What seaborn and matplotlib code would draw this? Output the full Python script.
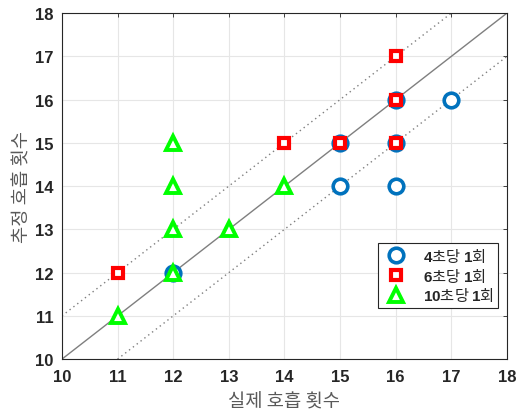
import numpy as np
import pandas as pd
import matplotlib
matplotlib.use("Agg")
import matplotlib.pyplot as plt
import seaborn as sns

# Actual vs. estimated breath counts for three breathing rates
rate_4s_actual = [12, 15, 16, 15, 16, 16, 17]
rate_4s_est = [12, 14, 14, 15, 15, 16, 16]

rate_6s_actual = [11, 14, 15, 16, 16, 16]
rate_6s_est = [12, 15, 15, 15, 16, 17]

rate_10s_actual = [11, 12, 12, 12, 12, 13, 14]
rate_10s_est = [11, 12, 13, 14, 15, 13, 14]

series_labels = [r"$\mathbf{4}$초당 $\mathbf{1}$회",
                 r"$\mathbf{6}$초당 $\mathbf{1}$회",
                 r"$\mathbf{10}$초당 $\mathbf{1}$회"]

axis_range = [10, 18]
ticks = list(range(10, 19))

sns.set_style("white")
plt.rcParams["font.family"] = ["Liberation Sans", "Noto Sans CJK KR", "DejaVu Sans"]
plt.rcParams["mathtext.fontset"] = "custom"
plt.rcParams["mathtext.bf"] = "Liberation Sans:bold"
plt.rcParams["mathtext.rm"] = "Liberation Sans"

fig = plt.figure(figsize=(5.2, 4.14), dpi=100)
ax = fig.add_axes([0.119, 0.130, 0.856, 0.836])

# reference lines: y = x and y = x +/- 1
diag = pd.DataFrame({"x": axis_range, "y": axis_range})
sns.lineplot(data=diag, x="x", y="y", ax=ax, color="#7f7f7f", linewidth=1.0)
upper = pd.DataFrame({"x": [10, 17], "y": [11, 18]})
lower = pd.DataFrame({"x": [11, 18], "y": [10, 17]})
for d in (upper, lower):
    sns.lineplot(data=d, x="x", y="y", ax=ax, color="#7f7f7f",
                 linewidth=1.0, linestyle=(0, (1, 2.5)))

series = [
    (rate_4s_actual, rate_4s_est, "o", "#0072bd", 10.5, 2.6, series_labels[0]),
    (rate_6s_actual, rate_6s_est, "s", "#ff0000", 7.2, 3.0, series_labels[1]),
    (rate_10s_actual, rate_10s_est, "^", "#00ff00", 10.5, 2.8, series_labels[2]),
]
for xs, ys, mk, col, ms, mew, lab in series:
    sns.lineplot(x=xs, y=ys, ax=ax, estimator=None, sort=False,
                 linestyle="", marker=mk, markersize=ms, markeredgewidth=mew,
                 markerfacecolor="white", markeredgecolor=col, color=col,
                 label=lab)

ax.set_xlim(axis_range)
ax.set_ylim(axis_range)
ax.set_xticks(ticks)
ax.set_yticks(ticks)
ax.grid(True, color="#e6e6e6", linewidth=0.8)
ax.set_axisbelow(True)
for sp in ax.spines.values():
    sp.set_color("#262626")
    sp.set_linewidth(0.8)
ax.tick_params(direction="in", length=3, width=0.6, top=True, right=True,
               colors="#262626", labelsize=12)
ax.tick_params(axis="x", pad=7)
ax.tick_params(axis="y", pad=6)
for lbl in ax.get_xticklabels() + ax.get_yticklabels():
    lbl.set_fontweight("bold")
    lbl.set_color("#262626")

ax.set_xlabel("실제 호흡 횟수", fontsize=13.5, color="#595959",
              family=["Noto Sans CJK KR", "DejaVu Sans"], labelpad=5)
ax.set_ylabel("추정 호흡 횟수", fontsize=13.5, color="#595959",
              family=["Noto Sans CJK KR", "DejaVu Sans"], labelpad=2)

leg = ax.legend(loc="lower right", bbox_to_anchor=(0.997, 0.125),
                frameon=True, fancybox=False, framealpha=1,
                edgecolor="#262626", handletextpad=0.9, borderpad=0.25,
                labelspacing=0.12, handlelength=1.8,
                prop={"family": ["Noto Sans CJK KR", "DejaVu Sans"], "size": 11})
leg.get_frame().set_linewidth(0.8)

fig.savefig("out.png", dpi=100)
